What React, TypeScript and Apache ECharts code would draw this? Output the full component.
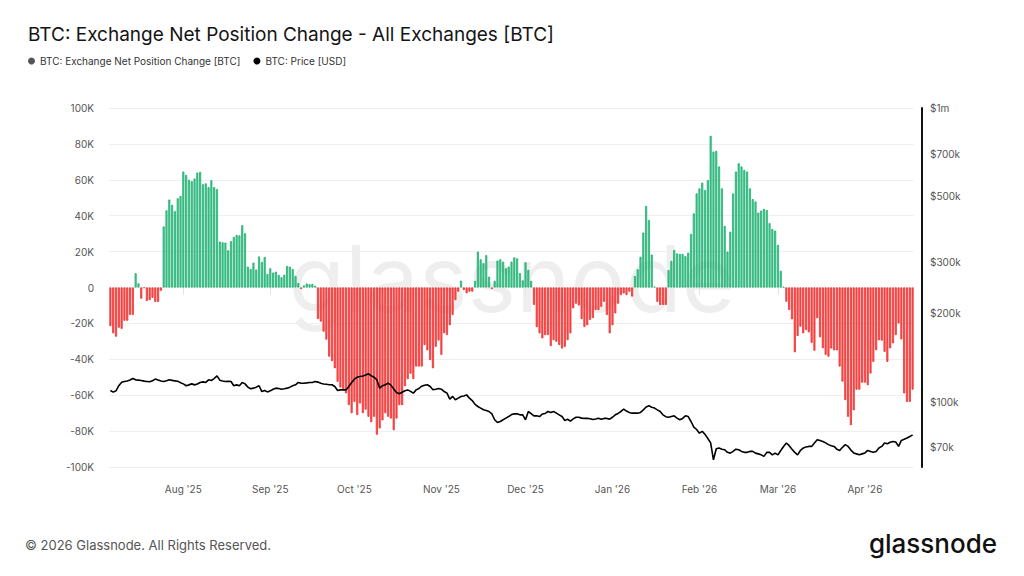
import React, { useEffect, useRef } from "react";
import * as echarts from "echarts";

// Daily series start on this date (UTC); one value per day per month block below.
const startDate = "2025-07-06";

// BTC: Exchange Net Position Change [BTC]
const julNet = [-21500, -25500, -27400, -22400, -23000, -18500, -18500, -15300, -15300, 8000, 2300, -6200, -300, -7500, -7000, -5700, -8000, -8000, -1800, 34000, 43000, 49000, 46000, 42600, 49700, 51000];
const augNet = [64600, 62700, 60000, 59200, 60700, 64000, 64400, 57500, 58000, 55900, 59700, 55900, 54800, 25600, 25200, 25000, 20700, 25800, 28200, 29300, 29000, 34700, 30200, 11600, 10300, 13800, 10000, 17300, 14200, 17000, 7500];
const sepNet = [10700, 8300, 8800, 7000, 5700, 7100, 12000, 11600, 10300, 6400, 2500, -800, 1200, 2200, 1800, 2000, 1000, -17500, -19000, -24600, -29000, -38500, -41000, -45000, -52500, -55700, -57000, -59000, -65500, -70000];
const octNet = [-63700, -71000, -64600, -70000, -68000, -72000, -75000, -72000, -82000, -78500, -74000, -70000, -72000, -73000, -79500, -73000, -65500, -65500, -55000, -51000, -48000, -51000, -44000, -44000, -44000, -32000, -35000, -40400, -45000, -33000, -29500];
const novNet = [-37500, -25500, -26500, -21000, -15300, -7000, -2300, 3800, -1400, -3200, -2300, -2300, 3700, 20000, 15700, 13500, 18000, 6000, -800, 3700, 15000, 15700, 14400, 10700, 11600, 14400, 16800, 16200, 8000, 4000];
const decNet = [14000, 9800, 3700, -9700, -22000, -25500, -28300, -26500, -26500, -32600, -29300, -30200, -32000, -34000, -33000, -29300, -25500, -11600, -9000, -10000, -17600, -22000, -21000, -18000, -17000, -12500, -12500, -10700, -8000, -15300, -25500];
const janNet = [-21000, -14400, -9000, -4200, -3300, -4200, -2300, -5000, 6400, 10100, 17100, 30600, 45400, 37600, 18300, 500, -8000, -9700, -9700, -9700, 9700, 14800, 20900, 19000, 18700, 18700, 17500, 19400, 29800, 41300, 52400];
const febNet = [55200, 58400, 54300, 59800, 84500, 75700, 76100, 67400, 55200, 34300, 20000, 31100, 52400, 64600, 69200, 67400, 65500, 64600, 55200, 49200, 47900, 41700, 42800, 43800, 43200, 35800, 32600, 31700];
const marNet = [23700, 9300, 300, -7900, -12500, -17700, -36100, -27000, -21800, -25500, -23700, -25000, -30800, -35200, -17100, -27700, -33800, -37500, -38500, -34000, -35000, -35000, -44000, -52400, -62700, -72000, -76700, -68400, -56900, -56900, -53000];
const aprNet = [-53000, -54400, -47900, -41400, -34900, -29400, -29600, -35800, -41400, -33900, -31100, -26500, -20000, -28900, -59000, -63700, -63700, -56900];

// BTC: Price [USD]
const julPrice = [109300, 107900, 109000, 113500, 116500, 117300, 117800, 118600, 120100, 118800, 118500, 118200, 117600, 117300, 117000, 118000, 119500, 118600, 117800, 117300, 118000, 118800, 118300, 117800, 117500, 116200];
const augPrice = [115100, 113400, 114200, 115100, 114200, 115000, 116300, 116900, 116400, 118800, 118200, 120000, 122600, 118500, 117800, 117300, 117500, 117300, 113400, 114200, 113400, 116400, 115100, 112200, 110800, 111300, 112200, 113400, 108400, 109300, 108100];
const sepPrice = [109000, 110400, 111300, 111000, 110400, 110800, 111300, 112200, 113400, 114300, 116400, 115700, 115700, 116000, 116400, 116400, 117300, 116700, 115700, 115000, 114800, 114300, 114300, 112800, 109300, 109800, 109800, 109800, 112800, 116400];
const octPrice = [119400, 121300, 122000, 122500, 123300, 124600, 122600, 121300, 118800, 111300, 113500, 114300, 115700, 114000, 110500, 107500, 106500, 107800, 109000, 109800, 108500, 107000, 109800, 111000, 113000, 113800, 114300, 112800, 110000, 110400, 111000];
const novPrice = [110400, 108400, 107000, 102100, 104300, 101600, 102900, 104300, 104600, 105600, 102900, 101000, 98000, 96400, 95200, 94000, 93400, 92700, 91000, 86900, 85000, 85700, 86900, 88000, 89100, 90500, 91000, 91000, 90300, 90300];
const decPrice = [86900, 92700, 91200, 89600, 89600, 89100, 90900, 91300, 92700, 92000, 92700, 91500, 90300, 89100, 86400, 87200, 86000, 87500, 88600, 88600, 88000, 87800, 87800, 87600, 87100, 87400, 87900, 87200, 87800, 87800, 87300];
const janPrice = [88600, 90300, 91300, 92700, 94400, 93000, 92000, 91500, 91500, 91500, 92000, 93900, 96000, 96900, 95900, 95200, 93900, 92700, 90300, 89000, 88600, 89100, 89600, 88000, 86900, 87800, 89600, 89100, 85700, 82000, 80500];
const febPrice = [78200, 79300, 77500, 75000, 72500, 63500, 69200, 69600, 69000, 68700, 67300, 66900, 67800, 69000, 68700, 67800, 67300, 67300, 67800, 67800, 66900, 66500, 66000, 65200, 67300, 67300, 66000, 66900];
const marPrice = [66000, 68300, 70500, 72400, 70900, 69000, 67300, 66000, 68300, 69600, 70200, 70500, 70500, 72400, 74300, 73800, 73300, 72500, 71500, 70900, 70500, 69000, 68300, 70000, 71500, 70500, 68500, 67000, 66500, 66000, 66500];
const aprPrice = [67000, 68300, 67800, 67300, 67800, 69600, 70500, 72400, 72000, 72800, 73300, 73000, 70500, 73900, 74600, 75300, 76200, 77200];

const netChange = [...julNet, ...augNet, ...sepNet, ...octNet, ...novNet, ...decNet, ...janNet, ...febNet, ...marNet, ...aprNet];
const btcPrice = [...julPrice, ...augPrice, ...sepPrice, ...octPrice, ...novPrice, ...decPrice, ...janPrice, ...febPrice, ...marPrice, ...aprPrice];

// Right-axis price ticks (USD), drawn on a log scale.
const priceTicks = [70000, 100000, 200000, 300000, 500000, 700000, 1000000];
const priceMin = 60000;
const priceMax = 1000000;

const monthNames = ["Jan", "Feb", "Mar", "Apr", "May", "Jun", "Jul", "Aug", "Sep", "Oct", "Nov", "Dec"];

function buildDates(start: string, count: number): string[] {
  const base = new Date(start + "T00:00:00Z").getTime();
  const out: string[] = [];
  for (let i = 0; i < count; i++) {
    out.push(new Date(base + i * 86400000).toISOString().slice(0, 10));
  }
  return out;
}

const FONT = "Inter, 'Noto Sans', sans-serif";

export default function App() {
  const ref = useRef<HTMLDivElement>(null);

  useEffect(() => {
    if (!ref.current) return;
    const chart = echarts.init(ref.current, null, { renderer: "svg" });
    const dates = buildDates(startDate, netChange.length);
    const isMonthStart = (_i: number, v: string) => v.slice(8, 10) === "01";

    const greenStyle = { color: "#4fcc97", borderColor: "#0fa866", borderWidth: 0.7 };
    const redStyle = { color: "#ff5f5f", borderColor: "#ec1c1c", borderWidth: 0.7 };

    chart.setOption({
      animation: false,
      backgroundColor: "#ffffff",
      textStyle: { fontFamily: FONT },
      title: {
        text: "BTC: Exchange Net Position Change - All Exchanges [BTC]",
        left: 23,
        top: 20,
        textStyle: { fontFamily: FONT, fontSize: 19, fontWeight: "normal", color: "#141414" },
      },
      legend: {
        left: 23,
        top: 51,
        icon: "circle",
        itemWidth: 7,
        itemHeight: 7,
        itemGap: 13,
        textStyle: { fontFamily: FONT, fontSize: 10, color: "#333" },
        data: ["BTC: Exchange Net Position Change [BTC]", "BTC: Price [USD]"],
      },
      grid: { left: 109, right: 110, top: 108, bottom: 109 },
      xAxis: {
        type: "category",
        data: dates,
        boundaryGap: true,
        axisLine: { show: false },
        axisTick: {
          show: true,
          alignWithLabel: true,
          interval: isMonthStart,
          length: 7,
          lineStyle: { color: "#e3e3e3" },
        },
        axisLabel: {
          interval: isMonthStart,
          margin: 17,
          fontFamily: FONT,
          fontSize: 10,
          color: "#555",
          formatter: (v: string) => {
            const m = parseInt(v.slice(5, 7), 10) - 1;
            return monthNames[m] + " '" + v.slice(2, 4);
          },
        },
        splitLine: { show: false },
      },
      yAxis: [
        {
          type: "value",
          min: -100000,
          max: 100000,
          interval: 20000,
          axisLine: { show: false },
          axisTick: { show: false },
          axisLabel: {
            margin: 15,
            fontFamily: FONT,
            fontSize: 10,
            color: "#555",
            formatter: (v: number) => (v === 0 ? "0" : v / 1000 + "K"),
          },
          splitLine: { lineStyle: { color: "#efefef", width: 1 } },
        },
        {
          type: "value",
          position: "right",
          offset: 8,
          min: Math.log10(priceMin),
          max: Math.log10(priceMax),
          axisLine: { show: true, lineStyle: { color: "#111", width: 2 } },
          axisTick: { show: false },
          splitLine: { show: false },
          axisLabel: {
            customValues: priceTicks.map((p) => Math.log10(p)),
            margin: 8,
            fontFamily: FONT,
            fontSize: 10,
            color: "#555",
            formatter: (v: number) => {
              const p = Math.round(Math.pow(10, v) / 1000) * 1000;
              return p >= 1000000 ? "$" + p / 1000000 + "m" : "$" + p / 1000 + "k";
            },
          },
        },
      ],
      graphic: [
        {
          type: "text",
          z: 0,
          left: "center",
          top: 232,
          silent: true,
          style: {
            text: "glassnode",
            fontFamily: FONT,
            fontSize: 92,
            fontWeight: 400,
            fill: "rgba(0,0,0,0.065)",
          },
        },
        {
          type: "text",
          left: 25,
          top: 538,
          style: {
            text: "\u00a9 2026 Glassnode. All Rights Reserved.",
            fontFamily: FONT,
            fontSize: 13,
            fill: "#555",
          },
        },
        {
          type: "text",
          right: 27,
          top: 530,
          style: {
            text: "glassnode",
            fontFamily: FONT,
            fontSize: 26,
            fontWeight: 500,
            fill: "#111",
          },
        },
      ],
      series: [
        {
          name: "BTC: Exchange Net Position Change [BTC]",
          type: "bar",
          yAxisIndex: 0,
          barWidth: 2,
          itemStyle: { color: "#555" },
          data: netChange.map((v) => ({ value: v, itemStyle: v >= 0 ? greenStyle : redStyle })),
          z: 2,
        },
        {
          name: "BTC: Price [USD]",
          type: "line",
          yAxisIndex: 1,
          showSymbol: false,
          symbol: "circle",
          itemStyle: { color: "#000" },
          lineStyle: { color: "#000", width: 1.6 },
          data: btcPrice.map((p) => Math.log10(p)),
          z: 3,
        },
      ],
    });

    return () => chart.dispose();
  }, []);

  return (
    <div
      ref={ref}
      style={{ position: "fixed", left: 0, top: 0, width: 1024, height: 576, background: "#fff" }}
    />
  );
}
